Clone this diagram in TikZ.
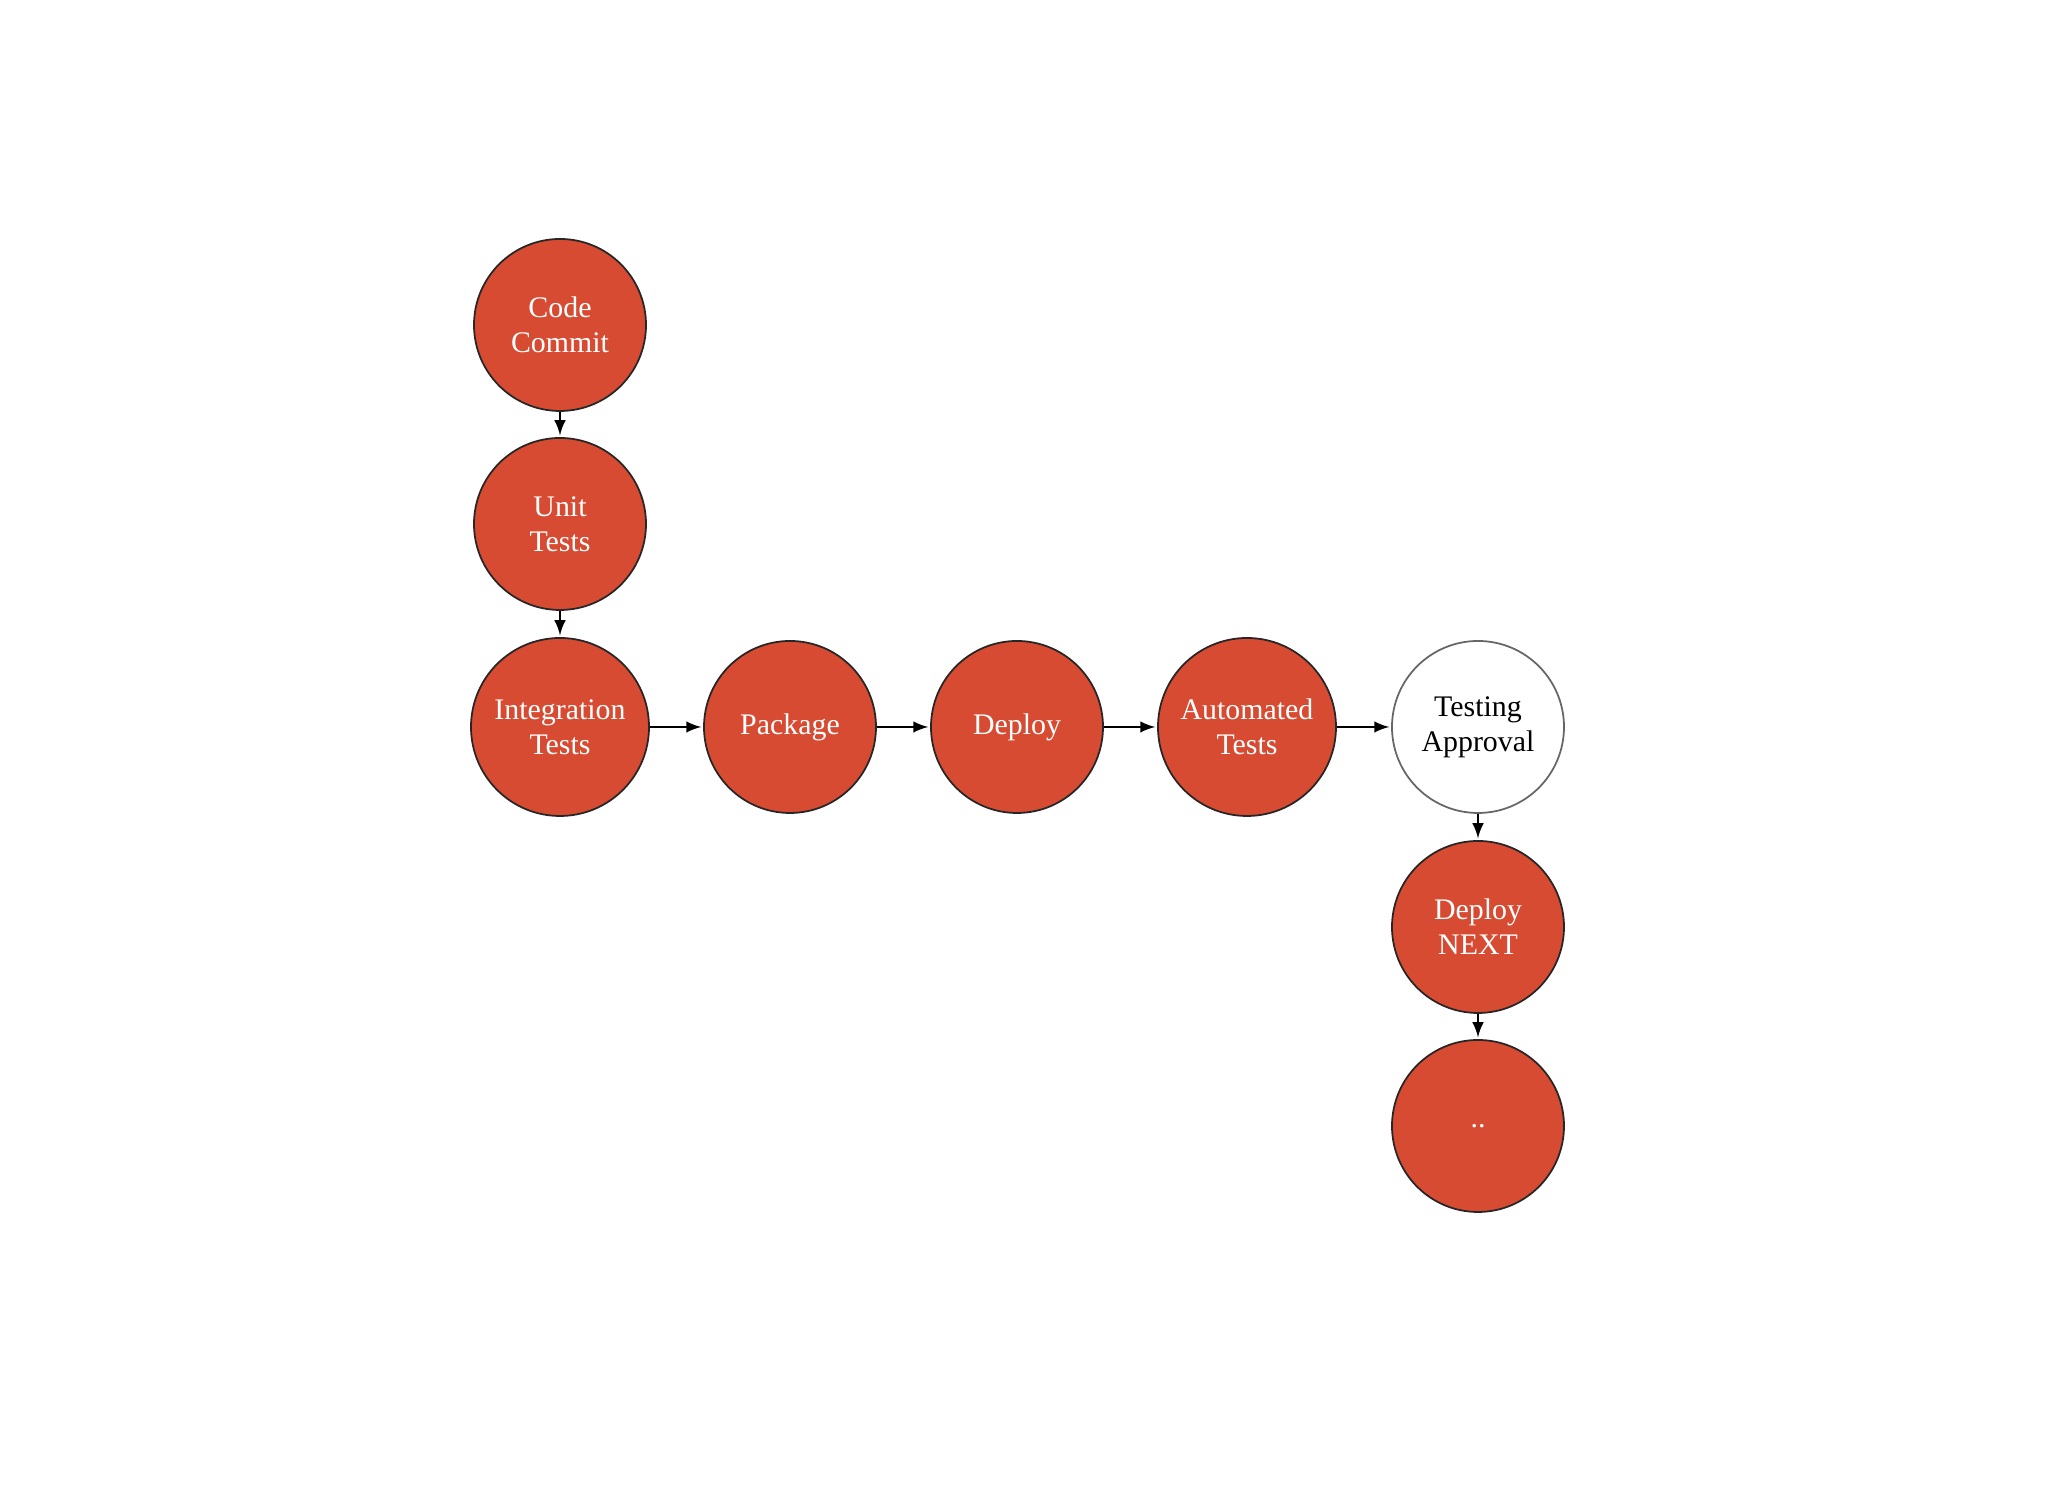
\documentclass[tikz,border=0pt]{standalone}
\usepackage{fontspec}
\setmainfont{Liberation Serif}
\usepackage{tikz}
\usetikzlibrary{arrows,shapes}

\definecolor{stagered}{RGB}{215,75,50}

\begin{document}
\begin{tikzpicture}[>=latex,
        stage/.style={circle, draw=black!85, fill=stagered, text=white, line width=0.5pt,
                      minimum size=1.72cm, inner sep=0pt, align=center,
                      font=\fontsize{8.5}{10}\selectfont},
        gate/.style={stage, draw=black!60, fill=white, text=black},
        flow/.style={->, line width=0.5pt, shorten >=0.5pt}]
        \useasboundingbox (0,0) rectangle (20.48,14.93);

        \node[stage] (commit) at (5.60,11.68) {Code\\Commit};
        \node[stage] (unit) at (5.60,9.69) {Unit\\Tests};
        \node[stage, minimum size=1.78cm] (integ) at (5.60,7.66) {Integration\\Tests};
        \node[stage] (package) at (7.90,7.66) {Package};
        \node[stage] (deploy) at (10.17,7.66) {Deploy};
        \node[stage, minimum size=1.78cm] (auto) at (12.47,7.66) {Automated\\Tests};
        \node[gate] (approval) at (14.78,7.66) {Testing\\Approval};
        \node[stage] (next) at (14.78,5.66) {Deploy\\NEXT};
        \node[stage] (more) at (14.78,3.67) {..};

        \draw[flow] (commit) -- (unit);
        \draw[flow] (unit) -- (integ);
        \draw[flow] (integ) -- (package);
        \draw[flow] (package) -- (deploy);
        \draw[flow] (deploy) -- (auto);
        \draw[flow] (auto) -- (approval);
        \draw[flow] (approval) -- (next);
        \draw[flow] (next) -- (more);
      \end{tikzpicture}
\end{document}
